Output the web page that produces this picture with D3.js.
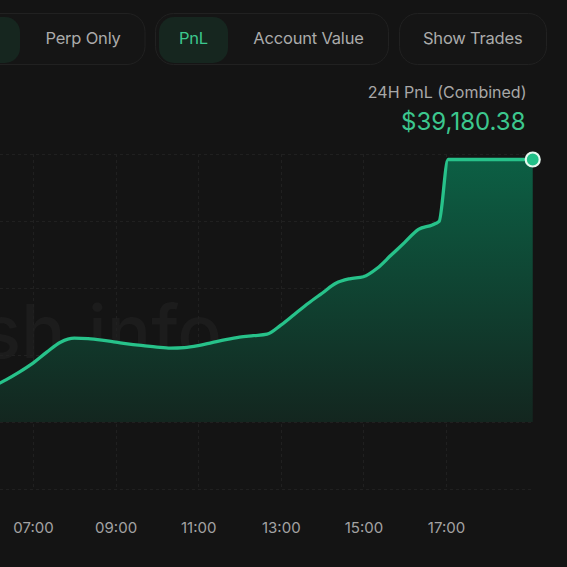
<!DOCTYPE html>
<html><head><meta charset="utf-8">
<script src="https://cdn.jsdelivr.net/npm/d3@7"></script>
<style>
html,body{margin:0;padding:0;background:#141414;}
svg{display:block;font-family:Inter,"Noto Sans",sans-serif;}
</style></head>
<body>
<svg id="c" width="567" height="567"></svg>
<script>
// ---- data ----
const times = ["05:40","06:00","06:20","06:40","07:00","07:20","07:40","08:00","08:20","08:40",
  "09:00","09:20","09:40","10:00","10:20","10:40","11:00","11:20","11:40","12:00",
  "12:20","12:40","13:00","13:20","13:40","14:00","14:20","14:40","15:00","15:20",
  "15:40","16:00","16:20","16:40","16:50","17:03","17:20","17:40","18:00","18:20","18:40","19:06"];
const pnl = [4470,5213,6256,7447,8788,10427,11917,12512,12438,12215,
  11917,11619,11395,11172,11023,11097,11395,11842,12289,12661,
  12885,13108,14449,16088,17726,19216,20706,21376,21674,22940,
  24877,26814,28750,29420,29950,39180.38,39180.38,39180.38,39180.38,39180.38,39180.38,39180.38];
const tickLabels = ["07:00","09:00","11:00","13:00","15:00","17:00"];
const yGridValues = [-10000,0,10000,20000,30000,40000];
const buttonsA = ["Perp Only"];
const buttonsB = ["PnL","Account Value"];
const buttonsC = ["Show Trades"];
const titleLabel = "24H PnL (Combined)";
const titleValue = 39180.38;
const watermark = "hyperdash.info";

// ---- setup ----
const svg = d3.select("#c");
const parse = d3.timeParse("%H:%M");
const data = times.map((t,i)=>({t:parse(t), v:pnl[i]}));
const ticks = tickLabels.map(parse);

const x = d3.scaleTime().domain([parse("07:00"), parse("17:00")]).range([33, 446]);
const y = d3.scaleLinear().domain([-10000, 40000]).range([489, 154]);

const GREEN = "#27c28a";

// background
svg.append("rect").attr("width",567).attr("height",567).attr("fill","#141414");

// ---- buttons ----
function container(x0,x1){
  svg.append("rect").attr("x",x0).attr("y",13.5).attr("width",x1-x0).attr("height",51)
    .attr("rx",18).attr("fill","#151515").attr("stroke","#212121").attr("stroke-width",1);
}
function pill(x0,x1){
  svg.append("rect").attr("x",x0).attr("y",17).attr("width",x1-x0).attr("height",46)
    .attr("rx",15).attr("fill","#16261f");
}
container(-80,145); pill(-70,20);
container(155.5,388.5); pill(159,228);
container(399.5,546.5);
const btnText = [
  {t:buttonsA[0], x:83, c:"#ababab"},
  {t:buttonsB[0], x:193.5, c:"#3cc78e"},
  {t:buttonsB[1], x:308.5, c:"#ababab"},
  {t:buttonsC[0], x:472.7, c:"#ababab"}
];
svg.selectAll("text.btn").data(btnText).join("text").attr("class","btn")
  .attr("x",d=>d.x).attr("y",44).attr("text-anchor","middle")
  .attr("font-size",16.5).attr("fill",d=>d.c).attr("letter-spacing",-0.2).text(d=>d.t);

// ---- watermark ----
svg.append("text").attr("x",222).attr("y",358).attr("text-anchor","end")
  .attr("font-size",74).attr("font-weight",500).attr("fill","#1c1c1c").text(watermark);

// ---- grid ----
const grid = svg.append("g").attr("stroke","#202020").attr("stroke-width",1).attr("stroke-dasharray","3,3");
grid.selectAll("line.h").data(yGridValues).join("line").attr("class","h")
  .attr("x1",0).attr("x2",533).attr("y1",d=>Math.round(y(d))+0.5).attr("y2",d=>Math.round(y(d))+0.5);
grid.selectAll("line.v").data(ticks).join("line").attr("class","v")
  .attr("x1",d=>Math.round(x(d))+0.5).attr("x2",d=>Math.round(x(d))+0.5)
  .attr("y1",y(40000)).attr("y2",y(-10000));

// ---- area ----
const defs = svg.append("defs");
const grad = defs.append("linearGradient").attr("id","g").attr("x1",0).attr("x2",0)
  .attr("gradientUnits","userSpaceOnUse").attr("y1",y(39180)).attr("y2",y(0));
grad.append("stop").attr("offset",0).attr("stop-color","#0c5f44");
grad.append("stop").attr("offset",1).attr("stop-color","#13261f");

const area = d3.area().x(d=>x(d.t)).y0(y(0)).y1(d=>y(d.v)).curve(d3.curveMonotoneX);
const line = d3.line().x(d=>x(d.t)).y(d=>y(d.v)).curve(d3.curveMonotoneX);
svg.append("path").datum(data).attr("d",area).attr("fill","url(#g)");
svg.append("path").datum(data).attr("d",line).attr("fill","none")
  .attr("stroke",GREEN).attr("stroke-width",3.3).attr("stroke-linejoin","round");

const last = data[data.length-1];
svg.append("circle").attr("cx",x(last.t)).attr("cy",y(last.v)).attr("r",7)
  .attr("fill","#22c088").attr("stroke","#e6f8ef").attr("stroke-width",2.2);

// ---- x axis ----
const axis = d3.axisBottom(x).tickValues(ticks).tickFormat(d3.timeFormat("%H:%M")).tickSize(0).tickPadding(0);
const ax = svg.append("g").attr("transform","translate(0,521)").call(axis);
ax.select(".domain").remove();
ax.selectAll("text").attr("fill","#a3a3a3").attr("font-size",15).attr("dy","0.8em")
  .attr("font-family","Inter,'Noto Sans',sans-serif");

// ---- title ----
svg.append("text").attr("x",526.5).attr("y",98).attr("text-anchor","end")
  .attr("font-size",16).attr("fill","#a8a8a8").text(titleLabel);
svg.append("text").attr("x",525.5).attr("y",129.5).attr("text-anchor","end")
  .attr("font-size",24).attr("fill","#3cc78e").text("$" + d3.format(",.2f")(titleValue));
</script>
</body></html>
